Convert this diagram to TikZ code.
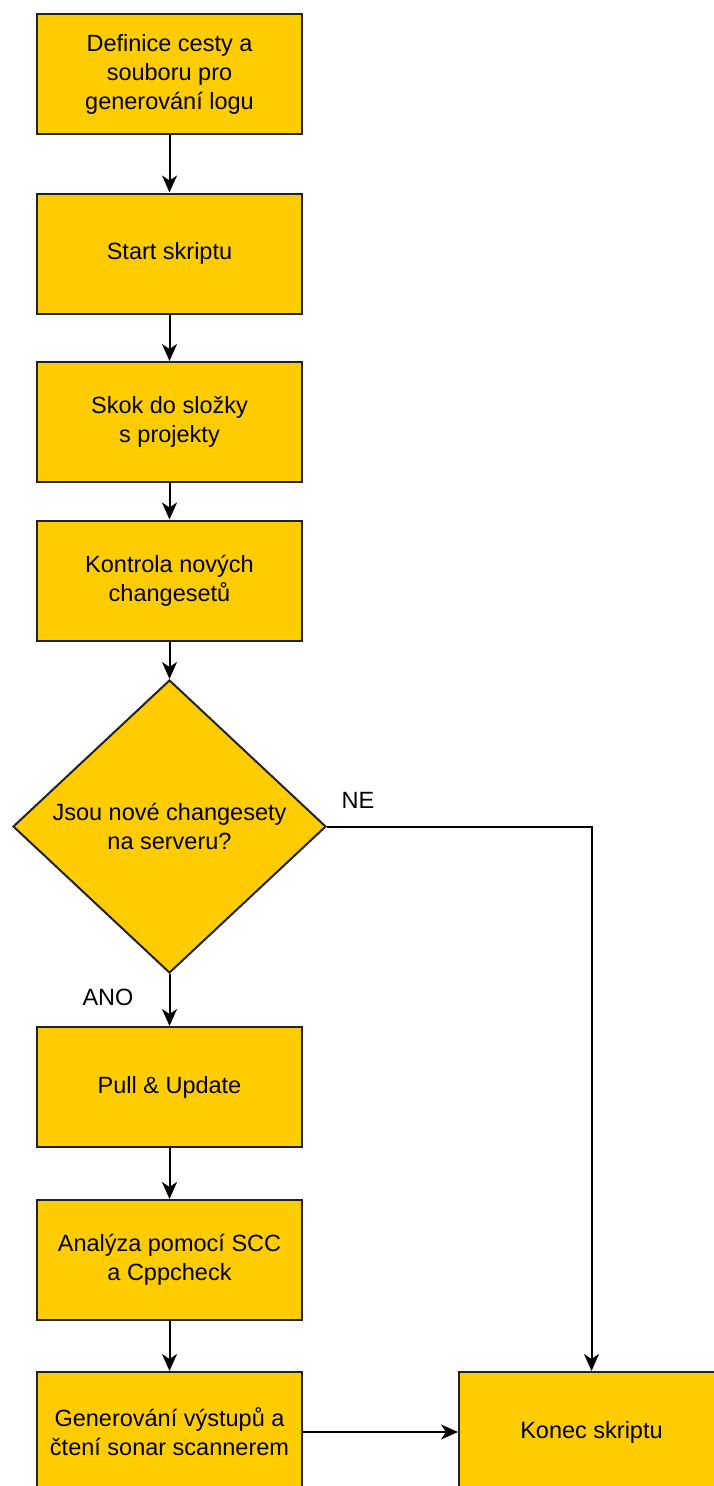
\documentclass[tikz,border=0pt]{standalone}
\usepackage{fontspec}
\setmainfont{Liberation Sans}
\usetikzlibrary{arrows.meta,shapes.geometric}
\definecolor{boxfill}{HTML}{FFCC00}
\definecolor{boxline}{HTML}{222222}
\tikzset{
  stepbox/.style={draw=boxline, fill=boxfill, line width=2pt, minimum width=265pt, minimum height=120pt, inner sep=0pt, align=center, font=\fontsize{23.5}{29}\selectfont},
  decision/.style={diamond, draw=boxline, fill=boxfill, line width=2pt, minimum width=313pt, minimum height=293pt, inner sep=0pt, align=center, font=\fontsize{23.5}{29}\selectfont},
  flow/.style={draw=black, line width=2pt, -{Stealth[length=17pt,width=15pt,inset=5pt]}},
  lbl/.style={font=\fontsize{23.5}{29}\selectfont, inner sep=0pt}
}
\begin{document}
\begin{tikzpicture}[x=1pt,y=-1pt]
\useasboundingbox[fill=white] (0,0) rectangle (713,1486);
\node[stepbox] (b1) at (169.5,74) {Definice cesty a\\souboru pro\\generování logu};
\node[stepbox] (b2) at (169.5,253.5) {Start skriptu};
\node[stepbox] (b3) at (169.5,422) {Skok do složky\\s projekty};
\node[stepbox] (b4) at (169.5,580.5) {Kontrola nových\\changesetů};
\node[decision] (d) at (169.5,826.5) {Jsou nové changesety\\na serveru?};
\node[stepbox] (b5) at (169.5,1087) {Pull \& Update};
\node[stepbox] (b6) at (169.5,1260) {Analýza pomocí SCC\\a Cppcheck};
\node[stepbox] (b7) at (169.5,1432) {Generování výstupů a\\čtení sonar scannerem};
\node[stepbox] (end) at (591.5,1432) {Konec skriptu};
\draw[flow] (b1) -- (b2);
\draw[flow] (b2) -- (b3);
\draw[flow] (b3) -- (b4);
\draw[flow] (b4) -- (d);
\draw[flow] (d) -- (b5);
\draw[flow] (b5) -- (b6);
\draw[flow] (b6) -- (b7);
\draw[flow] (b7) -- (end);
\draw[flow] (d.east) -| (end.north);
\node[lbl] (ne) at (358,800) {NE};
\node[lbl] (ano) at (108,997) {ANO};
\end{tikzpicture}
\end{document}
